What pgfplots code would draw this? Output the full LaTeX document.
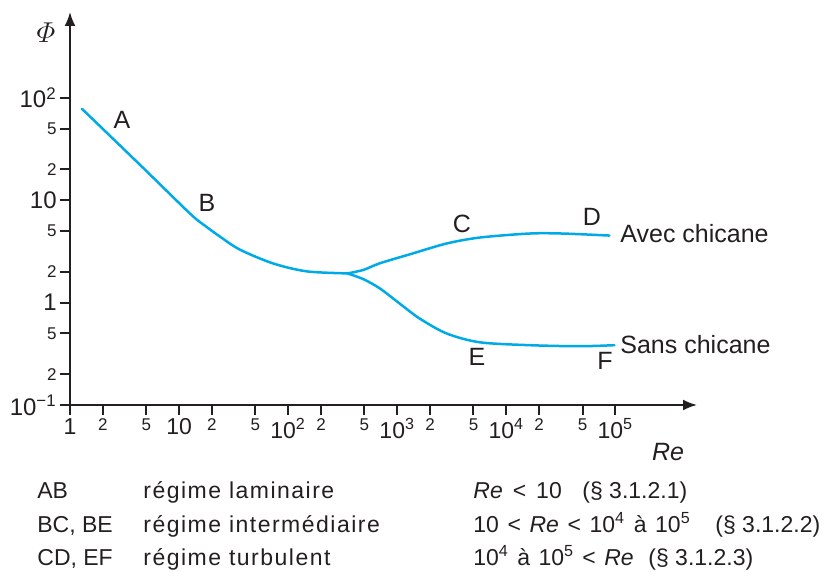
\documentclass[border=0pt]{standalone}
\usepackage{amsmath}
\usepackage{pgfplots}
\pgfplotsset{compat=1.18}
\usetikzlibrary{arrows.meta}
\usepackage{fontspec}
\setmainfont{Liberation Sans}
\newfontfamily\tracked[LetterSpace=6.5]{Liberation Sans}
\definecolor{axisgray}{HTML}{231F20}
\definecolor{curve}{RGB}{0,170,230}
\newcommand\M[1]{\raisebox{-2.5bp}{\fontsize{11.5bp}{12bp}\selectfont #1}}
\newcommand\MY[1]{{\fontsize{12bp}{12bp}\selectfont #1}}
\newcommand\m[1]{{\fontsize{8.5bp}{9bp}\selectfont #1}}
\newcommand\T{\fontsize{12.5bp}{14bp}\selectfont}
\newcommand\Tb{\fontsize{11.5bp}{13bp}\selectfont}
\begin{document}
\begin{tikzpicture}
\path[use as bounding box] (-35bp,-83.5bp) rectangle (377bp,202.5bp);
\begin{axis}[
  scale only axis, width=313.5bp, height=196.5bp,
  xmode=log, ymode=log,
  xmin=1, xmax=560000, ymin=0.1, ymax=690,
  axis lines=left,
  x axis line style={line width=1bp, color=axisgray, -{Latex[length=7bp,width=5.5bp]}},
  y axis line style={line width=1bp, color=axisgray, -{Latex[length=7bp,width=5.5bp]}},
  tick align=outside, major tick length=5bp,
  tick style={line width=1bp, color=axisgray},
  xminorticks=false, yminorticks=false,
  xtick={1,2,5,10,20,50,100,200,500,1000,2000,5000,10000,20000,50000,100000},
  xticklabels={\M{1},\m{2},\m{5},\M{10},\m{2},\m{5},\M{10\textsuperscript{2}},\m{2},\m{5},\M{10\textsuperscript{3}},\m{2},\m{5},\M{10\textsuperscript{4}},\m{2},\m{5},\M{10\textsuperscript{5}}},
  ytick={0.1,0.2,0.5,1,2,5,10,20,50,100},
  yticklabels={\MY{10\textsuperscript{−1}},\m{2},\m{5},\MY{1},\m{2},\m{5},\MY{10},\m{2},\m{5},\MY{10\textsuperscript{2}}},
  xticklabel style={text=axisgray, inner sep=1.5bp},
  yticklabel style={text=axisgray, inner sep=1.5bp},
  /pgf/number format/assume math mode=true,
  clip=false,
]
\addplot[curve, line width=1.25bp, smooth, line cap=round] coordinates {
 (1.29,78) (4.38,22.2) (12.6,7.41) (17.2,5.66) (23.6,4.43) (36,3.30) (72.3,2.42) (148,2.02) (351,1.93)};
\addplot[curve, line width=1.25bp, smooth, line cap=round] coordinates {
 (351,1.93) (492,2.09) (690,2.42) (1384,3.02) (2834,3.78) (5690,4.32) (16300,4.73) (32700,4.73) (88100,4.52)};
\addplot[curve, line width=1.25bp, smooth, line cap=round] coordinates {
 (351,1.93) (492,1.69) (690,1.38) (1052,0.98) (1603,0.70) (2834,0.50) (5690,0.41) (16300,0.384) (46800,0.375) (98000,0.384)};
\end{axis}
\begin{scope}[every node/.style={text=axisgray, inner sep=0pt}]
\node at (26bp,142.5bp) {\T A};
\node at (68.5bp,101bp) {\T B};
\node at (196bp,90.5bp) {\T C};
\node at (261bp,94bp) {\T D};
\node at (203.5bp,24bp) {\T E};
\node at (267.5bp,22bp) {\T F};
\node[anchor=west] at (275bp,85.5bp) {\T Avec chicane};
\node[anchor=west] at (275bp,30bp) {\T Sans chicane};
\node at (-12bp,186bp) {\fontsize{14bp}{16bp}\selectfont$\varPhi$};
\node at (299bp,-23.5bp) {\T\textit{Re}};
\node[anchor=base west] at (-16.5bp,-46.5bp) {\Tb AB};
\node[anchor=base west] at (-16.5bp,-63.5bp) {\Tb BC, BE};
\node[anchor=base west] at (-16.5bp,-80bp) {\Tb CD, EF};
\node[anchor=base west] at (36.5bp,-46.5bp) {\Tb\tracked régime laminaire};
\node[anchor=base west] at (36.5bp,-63.5bp) {\Tb\tracked régime intermédiaire};
\node[anchor=base west] at (36.5bp,-80bp) {\Tb\tracked régime turbulent};
\node[anchor=base west] at (201.5bp,-46.5bp) {\Tb\spaceskip=5bp\textit{Re} < 10};
\node[anchor=base west] at (256bp,-46.5bp) {\Tb(§ 3.1.2.1)};
\node[anchor=base west] at (201.5bp,-63.5bp) {\Tb\spaceskip=4.3bp 10 < \textit{Re} < 10\textsuperscript{4} à 10\textsuperscript{5}};
\node[anchor=base west] at (322.5bp,-63.5bp) {\Tb(§ 3.1.2.2)};
\node[anchor=base west] at (201.5bp,-80bp) {\Tb\spaceskip=4.2bp 10\textsuperscript{4} à 10\textsuperscript{5} < \textit{Re}};
\node[anchor=base west] at (289bp,-80bp) {\Tb(§ 3.1.2.3)};
\end{scope}
\end{tikzpicture}
\end{document}
